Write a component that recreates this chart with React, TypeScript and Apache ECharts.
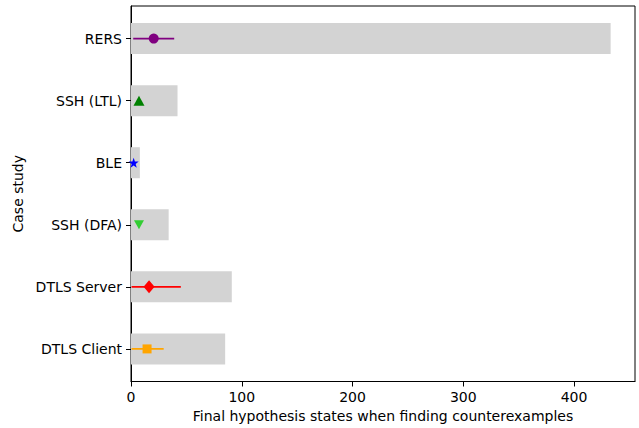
import React, { useEffect, useRef } from "react";
import * as echarts from "echarts";

const categories = ["DTLS Client", "DTLS Server", "SSH (DFA)", "BLE", "SSH (LTL)", "RERS"];
const barValues = [85, 91, 34, 8, 42, 433];
const meanValues = [14.5, 16.3, 7.2, 2.4, 7.2, 20.5];
const errLow = [0.5, 0.5, 7.2, 2.4, 7.2, 2];
const errHigh = [29.5, 45, 7.2, 2.4, 7.2, 39];
const colors = ["#ffa500", "#ff0000", "#32cd32", "#0000ff", "#008000", "#800080"];
const symbols = [
  "rect",
  "diamond",
  "path://M0,0 L10,0 L5,9 Z",
  "path://M50,0 L61.8,35.1 L97.6,34.5 L69.1,56.6 L79.4,90.9 L50,70 L20.6,90.9 L30.9,56.6 L2.4,34.5 L38.2,35.1 Z",
  "triangle",
  "circle",
];
const symbolSizes: any[] = [9, [11, 13], [10, 9], 10, [11, 10], 10];
const xTicks = [0, 100, 200, 300, 400];
const yTicks = [0, 1, 2, 3, 4, 5];

const FONT = "DejaVu Sans";
const FS = 14;

export default function App() {
  const ref = useRef<HTMLDivElement>(null);
  useEffect(() => {
    const chart = echarts.init(ref.current!, null, { renderer: "svg" });
    const option: any = {
      animation: false,
      textStyle: { fontFamily: FONT },
      grid: {
        left: 131,
        right: 4,
        top: 6,
        bottom: 46.5,
        show: true,
        borderColor: "#000",
        borderWidth: 1,
        backgroundColor: "transparent",
      },
      xAxis: {
        type: "value",
        min: 0,
        max: 455,
        interval: 100,
        name: "Final hypothesis states when finding counterexamples",
        nameLocation: "middle",
        nameGap: 27,
        nameTextStyle: { fontFamily: FONT, fontSize: FS, color: "#000" },
        axisLine: { show: true, onZero: false, lineStyle: { color: "#000", width: 1 } },
        axisTick: { show: true, length: 5, lineStyle: { color: "#000" } },
        axisLabel: {
          fontFamily: FONT,
          fontSize: FS,
          color: "#000",
          margin: 8,
          showMaxLabel: false,
          formatter: (v: number) => (xTicks.includes(v) ? String(v) : ""),
        },
        splitLine: { show: false },
      },
      yAxis: {
        type: "value",
        min: -0.525,
        max: 5.525,
        name: "Case study",
        nameLocation: "middle",
        nameGap: 99,
        nameTextStyle: { fontFamily: FONT, fontSize: FS, color: "#000" },
        axisLine: { show: true, onZero: false, lineStyle: { color: "#000", width: 1 } },
        axisTick: { show: true, length: 5, customValues: yTicks, lineStyle: { color: "#000" } },
        axisLabel: {
          fontFamily: FONT,
          fontSize: FS,
          color: "#000",
          margin: 9,
          customValues: yTicks,
          formatter: (v: number) => categories[Math.round(v)] ?? "",
        },
        splitLine: { show: false },
      },
      series: [
        {
          type: "custom",
          data: categories.map((_, i) => [barValues[i], i]),
          encode: { x: 0, y: 1 },
          z: 1,
          renderItem: (params: any, api: any) => {
            const v = api.value(0);
            const i = api.value(1);
            const p0 = api.coord([0, i]);
            const p1 = api.coord([v, i]);
            const h = api.size([0, 0.5])[1];
            return {
              type: "rect",
              shape: { x: p0[0], y: p0[1] - h / 2, width: p1[0] - p0[0], height: h },
              style: { fill: "#d3d3d3" },
            };
          },
        },
        {
          type: "custom",
          data: categories.map((_, i) => [i, errLow[i], errHigh[i]]),
          encode: { y: 0, x: [1, 2] },
          z: 2,
          renderItem: (params: any, api: any) => {
            const i = api.value(0);
            const a = api.coord([api.value(1), i]);
            const b = api.coord([api.value(2), i]);
            return {
              type: "line",
              shape: { x1: a[0], y1: a[1], x2: b[0], y2: b[1] },
              style: { stroke: colors[i], lineWidth: 1.6 },
            };
          },
        },
        {
          type: "scatter",
          z: 3,
          data: categories.map((_, i) => ({
            value: [meanValues[i], i],
            symbol: symbols[i],
            symbolSize: symbolSizes[i],
            itemStyle: { color: colors[i], opacity: 1 },
          })),
        },
      ],
    };
    chart.setOption(option);
    return () => chart.dispose();
  }, []);
  return <div ref={ref} style={{ width: 639, height: 428, position: "absolute", left: 0, top: 0 }} />;
}
